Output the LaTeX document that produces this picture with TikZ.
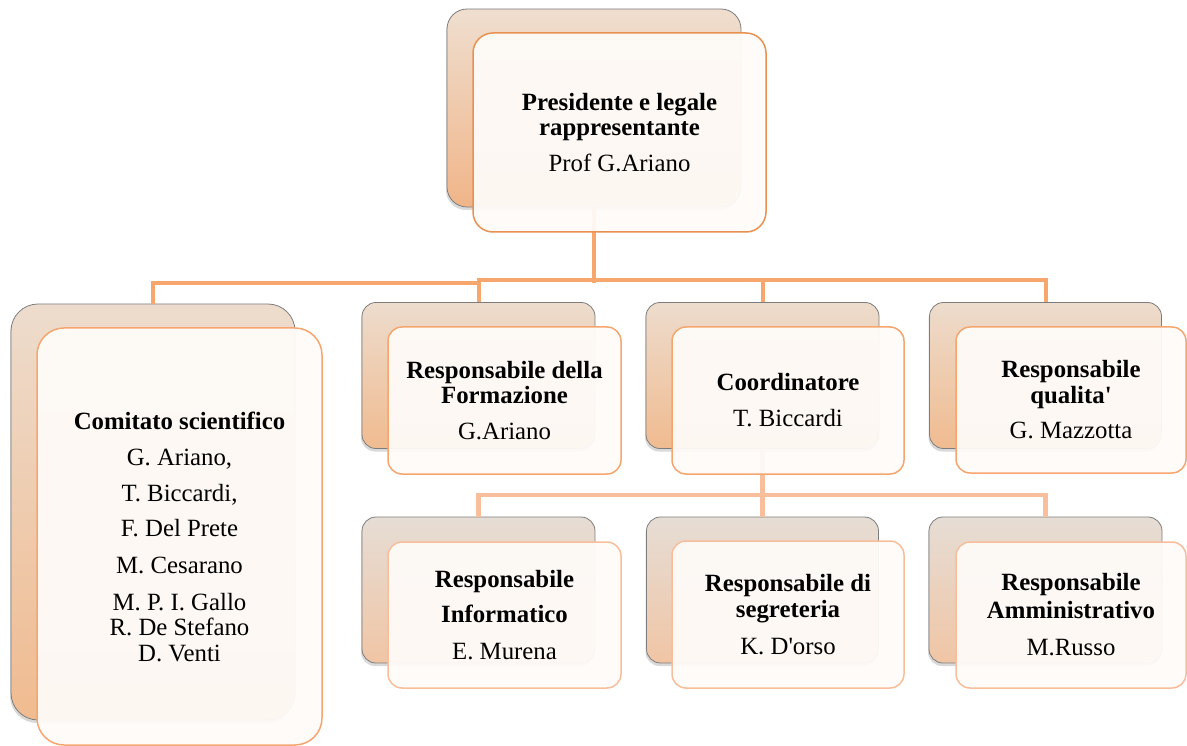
\documentclass[tikz,border=0pt]{standalone}
\usepackage{fontspec}
\newfontfamily\tnr{Liberation Serif}
\usetikzlibrary{shadows}
\definecolor{grayline}{RGB}{125,125,125}
\definecolor{brdA}{RGB}{232,145,80}
\definecolor{brdB}{RGB}{245,166,110}
\definecolor{brdC}{RGB}{248,190,156}
\definecolor{lineA}{RGB}{247,166,110}
\definecolor{lineB}{RGB}{249,191,156}
\definecolor{frontfill}{RGB}{254,251,248}
\tikzset{
  backbox/.style={rectangle, draw=grayline, line width=0.8pt, inner sep=0pt,
    drop shadow={shadow xshift=-1pt, shadow yshift=-3pt, opacity=0.15, fill=black}},
  shA/.style={top color={rgb,255:red,239;green,222;blue,207}, bottom color={rgb,255:red,240;green,181;blue,137}},
  shB/.style={top color={rgb,255:red,237;green,220;blue,205}, bottom color={rgb,255:red,240;green,187;blue,144}},
  shC/.style={top color={rgb,255:red,230;green,221;blue,213}, bottom color={rgb,255:red,240;green,197;blue,165}},
  frontbox/.style={rectangle, fill=frontfill, fill opacity=0.95, text opacity=1, line width=1.5pt,
    inner sep=0pt, align=center, font=\tnr\fontsize{24.8}{25.5}\selectfont},
  connA/.style={draw=lineA, line width=4pt},
  connB/.style={draw=lineB, line width=4.5pt},
}
\begin{document}
\begin{tikzpicture}[x=1pt,y=-1pt]
\useasboundingbox (0,0) rectangle (1187,746);
% back boxes
\node[backbox, shA, rounded corners=20pt, minimum width=294pt, minimum height=198pt] (topB) at (594,108) {};
\node[backbox, shB, rounded corners=27pt, minimum width=284pt, minimum height=416pt] (comB) at (153,512) {};
\node[backbox, shB, rounded corners=14pt, minimum width=233pt, minimum height=146pt] (forB) at (478.5,375.5) {};
\node[backbox, shB, rounded corners=14pt, minimum width=233pt, minimum height=146pt] (coB) at (762.5,375.5) {};
\node[backbox, shB, rounded corners=14pt, minimum width=232pt, minimum height=146pt] (quB) at (1045.5,375.5) {};
\node[backbox, shC, rounded corners=14pt, minimum width=233pt, minimum height=146pt] (infB) at (478.5,590) {};
\node[backbox, shC, rounded corners=14pt, minimum width=232pt, minimum height=146pt] (segB) at (762.5,590) {};
\node[backbox, shC, rounded corners=14pt, minimum width=233pt, minimum height=146pt] (amB) at (1045.5,590) {};
% connectors
\coordinate (busL) at (478.5,283.5);
\coordinate (busR) at (478.5,280.5);
\coordinate (bus2) at (762.5,495);
\draw[connA] (topB.south) -- (topB.south |- busL);
\draw[connA] (comB.north) |- (busL);
\draw[connA] (forB.north) -- (busR) -| (quB.north);
\draw[connA] (coB.north) -- (coB.north |- busR);
\draw[connB] (coB.south) -- (bus2);
\draw[connB] (infB.north) |- (bus2) -| (amB.north);
\draw[connB] (segB.north) -- (segB.north |- bus2);
% front boxes
\node[frontbox, draw=brdA, rounded corners=20pt, minimum width=293pt, minimum height=199pt] (topF) at (619.5,132.5)
  {\textbf{Presidente e legale}\\\textbf{rappresentante}\\[10.5pt]Prof G.Ariano};
\node[frontbox, draw=brdB, rounded corners=27pt, minimum width=285pt, minimum height=417pt] (comF) at (179.5,536.5)
  {\textbf{Comitato scientifico}\\[10.5pt]G. Ariano,\\[10.5pt]T. Biccardi,\\[9.5pt]F. Del Prete\\[11.5pt]M. Cesarano\\[11.5pt]M. P. I. Gallo\\R. De Stefano\\D. Venti};
\node[frontbox, draw=brdB, rounded corners=14pt, minimum width=233pt, minimum height=147pt] (forF) at (504.5,400.5)
  {\textbf{Responsabile della}\\\textbf{Formazione}\\[10.5pt]G.Ariano};
\node[frontbox, draw=brdB, rounded corners=14pt, minimum width=232pt, minimum height=147pt] (coF) at (788,400.5)
  {\textbf{Coordinatore}\\[10.5pt]T. Biccardi};
\node[frontbox, draw=brdB, rounded corners=14pt, minimum width=230pt, minimum height=146pt] (quF) at (1071,400)
  {\textbf{Responsabile}\\\textbf{qualita'}\\[10pt]G. Mazzotta};
\node[frontbox, draw=brdC, rounded corners=14pt, minimum width=233pt, minimum height=146pt] (infF) at (504.5,615)
  {\textbf{Responsabile}\\[9.5pt]\textbf{Informatico}\\[11.5pt]E. Murena};
\node[frontbox, draw=brdC, rounded corners=14pt, minimum width=232pt, minimum height=147pt] (segF) at (788,614.5)
  {\textbf{Responsabile di}\\\textbf{segreteria}\\[11.5pt]K. D'orso};
\node[frontbox, draw=brdC, rounded corners=14pt, minimum width=230pt, minimum height=146pt] (amF) at (1071,615)
  {\textbf{Responsabile}\\[2.5pt]\textbf{Amministrativo}\\[11.5pt]M.Russo};
\end{tikzpicture}
\end{document}
